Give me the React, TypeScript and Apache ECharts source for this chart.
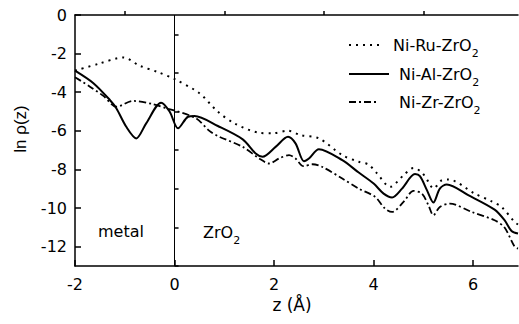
import React, { useEffect, useRef } from "react";
import * as echarts from "echarts";

const FONT = "'DejaVu Sans', 'Liberation Sans', Arial, sans-serif";
const FONT2 = "'Liberation Sans', Arial, sans-serif";

const niRuX = [-2, -1.53, -1.03, -0.7, -0.33, 0, 0.5, 0.85, 1.2, 1.7, 1.97, 2.27, 2.53, 2.9, 3.37, 3.7, 3.9, 4.07, 4.33, 4.6, 4.8, 4.97, 5.1, 5.2, 5.37, 5.5, 6.03, 6.37, 6.57, 6.83, 6.9];
const niRuY = [-2.88, -2.53, -2.2, -2.63, -2.96, -3.32, -4.05, -4.96, -5.61, -6.1, -6.13, -5.99, -6.22, -6.39, -7.26, -7.6, -7.75, -8.21, -8.9, -8.3, -7.92, -8.16, -8.64, -8.99, -8.56, -8.52, -9.25, -9.65, -9.94, -10.72, -10.85];

const niAlX = [-2, -1.63, -1.3, -1.17, -0.97, -0.77, -0.57, -0.27, -0.1, 0.07, 0.27, 0.4, 0.87, 1.37, 1.63, 1.77, 2.03, 2.28, 2.43, 2.6, 2.7, 2.9, 3.37, 3.7, 4.0, 4.2, 4.37, 4.57, 4.83, 4.93, 5.07, 5.2, 5.33, 5.47, 5.9, 6.43, 6.63, 6.77, 6.9];
const niAlY = [-2.88, -3.53, -4.4, -4.83, -5.79, -6.39, -5.61, -4.54, -5.0, -5.87, -5.27, -5.23, -5.75, -6.44, -7.17, -7.34, -6.83, -6.31, -6.65, -7.57, -7.43, -6.95, -7.52, -8.16, -8.73, -9.25, -9.45, -8.99, -8.24, -8.35, -9.07, -9.71, -8.99, -8.78, -9.33, -10.08, -10.63, -11.19, -11.32];

const niZrX = [-2, -1.7, -1.43, -1.17, -0.83, -0.43, -0.17, 0.03, 0.43, 0.7, 0.87, 1.37, 1.7, 1.9, 2.1, 2.3, 2.43, 2.59, 2.77, 2.97, 3.37, 3.7, 4.03, 4.23, 4.37, 4.6, 4.8, 4.97, 5.1, 5.2, 5.33, 5.53, 5.97, 6.43, 6.63, 6.83, 6.9];
const niZrY = [-3.22, -3.71, -4.19, -4.75, -4.45, -4.62, -4.83, -4.97, -5.35, -6.0, -6.27, -6.83, -7.43, -7.69, -7.43, -7.26, -7.43, -7.83, -7.73, -7.87, -8.47, -8.99, -9.42, -10.03, -10.2, -9.68, -9.11, -9.25, -9.85, -10.37, -9.94, -9.77, -10.2, -10.63, -11.01, -11.99, -12.1];

const seriesNames = ["Ni-Ru-ZrO2", "Ni-Al-ZrO2", "Ni-Zr-ZrO2"];
const xMajorTicks = [-2, 0, 2, 4, 6];
const xMinorTicks = [-1, 1, 3, 5];
const yMajorTicks = [-12, -10, -8, -6, -4, -2, 0];
const yMinorTicks = [-13, -11, -9, -7, -5, -3, -1];
const xRange = [-2, 6.9];
const yRange = [-13, 0];
const regionLabels = ["metal", "ZrO2"];
const xTitle = "z (Å)";
const yTitle = "ln ρ(z)";
const dividerX = 0;

const zip = (xs: number[], ys: number[]) => xs.map((x, i) => [x, ys[i]]);
const subFmt = (name: string) => `{m|${name.slice(0, -1)}}{s|${name.slice(-1)}}`;

const makeRich = (padLeft: number) => ({
  m: { fontSize: 16, fontFamily: FONT, color: "#000", padding: [0, 0, 0, padLeft] },
  s: { fontSize: 11, fontFamily: FONT, color: "#000", padding: [16, 0, 0, 0] },
});

export default function App() {
  const ref = useRef<HTMLDivElement>(null);
  useEffect(() => {
    if (!ref.current) return;
    const chart = echarts.init(ref.current, undefined, { renderer: "svg" });
    const axisLineStyle = { color: "#000", width: 1.5 };
    const legendTops = [37, 66, 94];
    const legendWidths = [30, 40, 30];
    const legendPads = [9, 5, 15];
    chart.setOption({
      animation: false,
      backgroundColor: "#fff",
      grid: { left: 75, right: 1, top: 15, bottom: 58, containLabel: false },
      legend: seriesNames.map((n, i) => ({
        data: [n],
        left: 348,
        top: legendTops[i],
        itemWidth: legendWidths[i],
        itemHeight: 14,
        padding: 0,
        formatter: subFmt,
        textStyle: { rich: makeRich(legendPads[i]) },
        itemStyle: { opacity: 0 },
        selectedMode: false,
      })),
      xAxis: [
        {
          type: "value",
          min: xRange[0],
          max: xRange[1],
          position: "bottom",
          axisLine: { show: true, onZero: false, lineStyle: axisLineStyle },
          axisTick: { show: true, inside: true, length: 6, customValues: xMajorTicks, lineStyle: axisLineStyle },
          axisLabel: { customValues: xMajorTicks, fontSize: 16, fontFamily: FONT, color: "#000", margin: 10 },
          splitLine: { show: false },
        },
        {
          type: "value",
          min: xRange[0],
          max: xRange[1],
          position: "bottom",
          axisLine: { show: false },
          axisTick: { show: true, inside: true, length: 4, customValues: xMinorTicks, lineStyle: axisLineStyle },
          axisLabel: { show: false },
          splitLine: { show: false },
        },
        {
          type: "value",
          min: xRange[0],
          max: xRange[1],
          position: "top",
          axisLine: { show: true, onZero: false, lineStyle: axisLineStyle },
          axisTick: { show: false },
          axisLabel: { show: false },
          splitLine: { show: false },
        },
      ],
      yAxis: [
        {
          type: "value",
          min: yRange[0],
          max: yRange[1],
          position: "left",
          axisLine: { show: true, onZero: false, lineStyle: axisLineStyle },
          axisTick: { show: true, inside: true, length: 6, customValues: yMajorTicks, lineStyle: axisLineStyle },
          axisLabel: { customValues: yMajorTicks, fontSize: 16, fontFamily: FONT, color: "#000", margin: 8 },
          splitLine: { show: false },
        },
        {
          type: "value",
          min: yRange[0],
          max: yRange[1],
          position: "left",
          offset: 0,
          axisLine: { show: false },
          axisTick: { show: true, inside: true, length: 4, customValues: yMinorTicks, lineStyle: axisLineStyle },
          axisLabel: { show: false },
          splitLine: { show: false },
        },
      ],
      series: [
        {
          name: seriesNames[0],
          type: "line",
          data: zip(niRuX, niRuY),
          smooth: 0.3,
          symbol: "none",
          lineStyle: { color: "#000", width: 2, type: [2, 5] },
          itemStyle: { color: "#000" },
        },
        {
          name: seriesNames[1],
          type: "line",
          data: zip(niAlX, niAlY),
          smooth: 0.3,
          symbol: "none",
          lineStyle: { color: "#000", width: 2, type: "solid" },
          itemStyle: { color: "#000" },
          markLine: {
            silent: true,
            symbol: ["none", "none"],
            label: { show: false },
            lineStyle: { color: "#000", width: 1, type: "solid" },
            data: [{ xAxis: dividerX }],
          },
        },
        {
          name: seriesNames[2],
          type: "line",
          data: zip(niZrX, niZrY),
          smooth: 0.3,
          symbol: "none",
          lineStyle: { color: "#000", width: 1.8, type: [7, 3, 2, 3] },
          itemStyle: { color: "#000" },
        },
      ],
      graphic: [
        {
          type: "text",
          x: 98,
          y: 231,
          style: { text: regionLabels[0], fontSize: 16, fontFamily: FONT, fill: "#000", textVerticalAlign: "middle" },
        },
        {
          type: "text",
          x: 203,
          y: 232,
          style: { text: subFmt(regionLabels[1]), rich: makeRich(0), fill: "#000", textVerticalAlign: "middle" },
        },
        {
          type: "text",
          x: 292,
          y: 305,
          style: { text: xTitle, fontSize: 17, fontFamily: FONT, fill: "#000", textAlign: "center", textVerticalAlign: "middle" },
        },
        {
          type: "text",
          x: 20,
          y: 129,
          rotation: Math.PI / 2,
          style: { text: yTitle, fontSize: 17, fontFamily: FONT2, fill: "#000", textAlign: "center", textVerticalAlign: "middle" },
        },
      ],
    });
    return () => chart.dispose();
  }, []);
  return <div ref={ref} style={{ width: 519, height: 324, position: "absolute", left: 0, top: 0 }} />;
}
